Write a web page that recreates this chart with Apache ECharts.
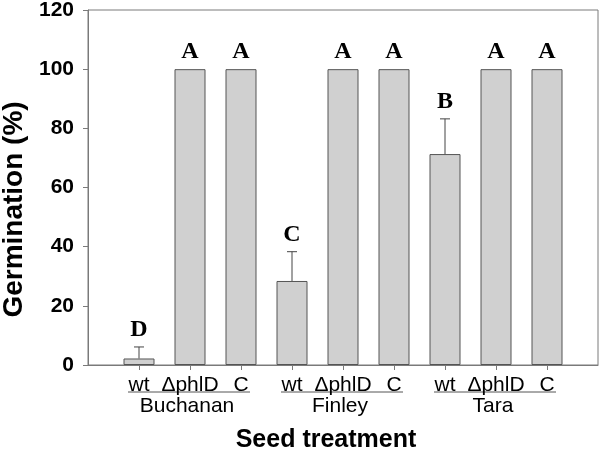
<!DOCTYPE html>
<html>
<head>
<meta charset="utf-8">
<script src="https://cdn.jsdelivr.net/npm/echarts@6/dist/echarts.min.js"></script>
<style>html,body{margin:0;padding:0;background:#fff;}#c{width:600px;height:452px;}</style>
</head>
<body>
<div id="c"></div>
<script>
// ---- data ----
var categories = ['wt', 'ΔphlD', 'C', 'wt', 'ΔphlD', 'C', 'wt', 'ΔphlD', 'C'];
var groups = ['Buchanan', 'Finley', 'Tara'];
var germination = [2.2, 100, 100, 28.4, 100, 100, 71.3, 100, 100];
var errors = [3.9, 0, 0, 9.9, 0, 0, 11.9, 0, 0];
var letters = ['D', 'A', 'A', 'C', 'A', 'A', 'B', 'A', 'A'];
var yTicks = [0, 20, 40, 60, 80, 100, 120];

// padded category list (empty slots at both ends so bars sit one step in)
var axisCats = [''].concat(categories).concat(['']);
var barData = ['-'].concat(germination).concat(['-']);
var errData = categories.map(function (c, i) { return [i + 1, germination[i], errors[i]]; });

var chart = echarts.init(document.getElementById('c'), null, { renderer: 'canvas' });
var axisColor = '#7a7a7a';
var option = {
  animation: false,
  grid: { left: 88, right: 2, top: 10, bottom: 87, containLabel: false, outerBoundsMode: 'none',
    show: true, borderColor: axisColor, borderWidth: 1 },
  xAxis: {
    type: 'category',
    data: axisCats,
    boundaryGap: false,
    axisLine: { lineStyle: { color: axisColor, width: 1 } },
    axisTick: { show: true, length: 5, inside: false, lineStyle: { color: axisColor },
      interval: function (idx) { return idx >= 1 && idx <= categories.length; } },
    axisLabel: { interval: 0, margin: 10, color: '#000', fontFamily: 'Liberation Sans, Arial', fontSize: 21 },
    splitLine: { show: false }
  },
  yAxis: {
    type: 'value', min: yTicks[0], max: yTicks[yTicks.length - 1], interval: 20,
    axisLine: { show: true, lineStyle: { color: axisColor, width: 1 } },
    axisTick: { show: true, length: 5, lineStyle: { color: axisColor } },
    axisLabel: { margin: 14, color: '#000', fontFamily: 'Liberation Sans, Arial', fontWeight: 'bold', fontSize: 21 },
    splitLine: { show: false },
    name: 'Germination (%)', nameLocation: 'middle', nameGap: 52, nameRotate: 90,
    nameTextStyle: { color: '#000', fontFamily: 'Liberation Sans, Arial', fontWeight: 'bold', fontSize: 28,
      padding: [0, 44, 0, 0] }
  },
  series: [
    {
      type: 'bar', data: barData, barWidth: 31,
      itemStyle: { color: '#d0d0d0', borderColor: '#555', borderWidth: 1 }
    },
    {
      type: 'custom', data: errData, z: 5,
      renderItem: function (params, api) {
        var x = api.value(0), y = api.value(1), e = api.value(2), lab = letters[params.dataIndex];
        var base = api.coord([x, y]);
        var top = api.coord([x, y + e]);
        var children = [];
        if (e > 0) {
          children.push({ type: 'line', shape: { x1: base[0], y1: base[1], x2: top[0], y2: top[1] }, style: { stroke: '#444', lineWidth: 1 } });
          children.push({ type: 'line', shape: { x1: top[0] - 5, y1: top[1], x2: top[0] + 5, y2: top[1] }, style: { stroke: '#444', lineWidth: 1 } });
        }
        children.push({ type: 'text', x: top[0], y: top[1] - 17,
          style: { text: lab, fill: '#000', font: 'bold 24px "Liberation Serif", "Times New Roman", serif', align: 'center', verticalAlign: 'middle' } });
        return { type: 'group', children: children };
      }
    }
  ]
};
chart.setOption(option);

// group labels, underlines and x-axis title placed from axis coordinates
var graphics = [];
var font = '21px "Liberation Sans", Arial, sans-serif';
var y0 = chart.convertToPixel({ gridIndex: 0 }, [0, 0])[1];
groups.forEach(function (g, gi) {
  var first = chart.convertToPixel({ xAxisIndex: 0 }, gi * 3 + 1);
  var mid = chart.convertToPixel({ xAxisIndex: 0 }, gi * 3 + 2);
  var last = chart.convertToPixel({ xAxisIndex: 0 }, gi * 3 + 3);
  graphics.push({ type: 'line', shape: { x1: first - 11, y1: y0 + 27, x2: last + 9, y2: y0 + 27 }, style: { stroke: '#555', lineWidth: 1 } });
  graphics.push({ type: 'text', x: mid - 3, y: y0 + 41, style: { text: g, font: font, fill: '#000', align: 'center', verticalAlign: 'middle' } });
});
var xs = chart.convertToPixel({ xAxisIndex: 0 }, 5);
graphics.push({ type: 'text', x: xs - 17, y: y0 + 75, style: { text: 'Seed treatment', font: 'bold 25px "Liberation Sans", Arial, sans-serif', fill: '#000', align: 'center', verticalAlign: 'middle' } });
chart.setOption({ graphic: graphics });
</script>
</body>
</html>
